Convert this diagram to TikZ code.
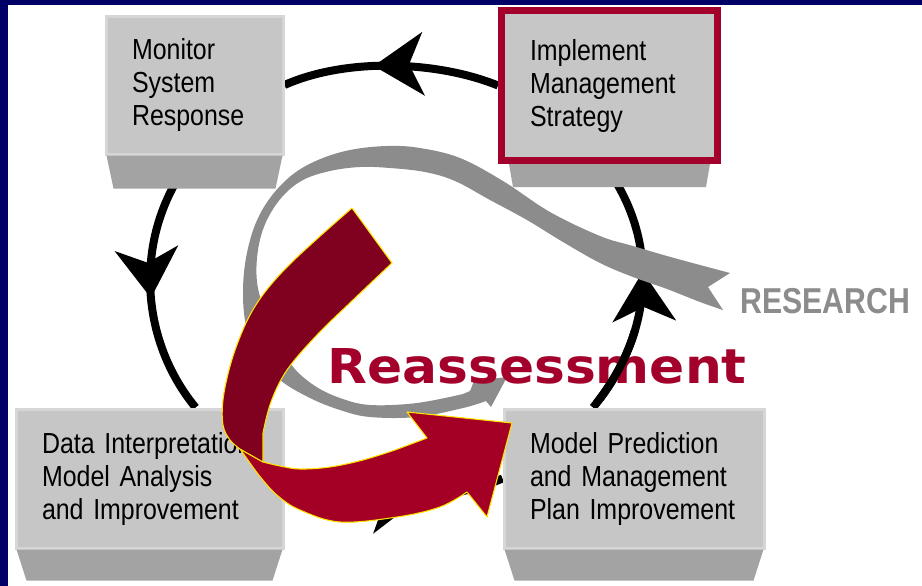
\documentclass[tikz,border=0pt]{standalone}
\usepackage{fontspec}
\newfontfamily\boxfont[FakeStretch=0.86]{Liberation Sans}
\newfontfamily\researchfont[FakeStretch=0.84]{Liberation Sans}
\newfontfamily\reassessfont[FakeStretch=1.08]{DejaVu Sans}
\usepackage{tikz}
\usetikzlibrary{arrows.meta, decorations.markings}

\definecolor{navy}{HTML}{000066}
\definecolor{facegrey}{HTML}{C6C6C6}
\definecolor{edgegrey}{HTML}{D6D6D6}
\definecolor{basegrey}{HTML}{A3A3A3}
\definecolor{bandgrey}{HTML}{8C8C8C}
\definecolor{wine}{HTML}{A3002B}
\definecolor{darkwine}{HTML}{800020}
\definecolor{brightwine}{HTML}{A40025}
\definecolor{rim}{HTML}{FFE400}

\pgfdeclarelayer{back}
\pgfsetlayers{back,main}

\tikzset{
	face/.style={draw=edgegrey, line width=2.25pt, fill=facegrey, inner xsep=19.5pt, inner ysep=0pt, align=left, font=\boxfont\fontsize{21.75pt}{24.75pt}\selectfont},
	base/.style={fill=basegrey},
	cyc/.style={line width=6pt, decoration={markings, mark=at position #1 with {\pgfsetlinewidth{0pt}\arrow{Stealth[length=37.5pt, width=48pt, inset=11pt]}}}, postaction={decorate}},
	ribbon/.style={draw=rim, line width=0.8pt, line join=round},
}

\begin{document}
\begin{tikzpicture}[x=0.75pt, y=0.75pt]
	\useasboundingbox (0,0) rectangle (922,-586);

	% the four stages
	\node[face, text width=93.75pt, minimum height=103.5pt] (monitor) at (194.5,-85) {Monitor\\System\\Response};
	\node[face, draw=wine, line width=5.25pt, inner xsep=21.375pt, text width=119.25pt, minimum height=112.5pt] (impl) at (609.5,-85.5) {Implement\\Management\\Strategy};
	\node[face, text width=161.25pt, minimum height=104.25pt] (data) at (149.5,-478.5) {Data Interpretation\\Model Analysis\\and Improvement};
	\node[face, text width=156pt, minimum height=104.25pt] (pred) at (634,-478.5) {Model Prediction\\and Management\\Plan Improvement};

	\foreach \n/\h/\t/\b in {monitor/33/2/9, impl/23/11/15, data/31/2/12, pred/31/2/12}
		\fill[base] ([shift={(\t,0)}]\n.south west) -- ([shift={(\b,-\h)}]\n.south west) -- ([shift={(-\b,-\h)}]\n.south east) -- ([shift={(-\t,0)}]\n.south east) -- cycle;

	\begin{pgfonlayer}{back}
		\fill[navy] (0,0) rectangle (922,-586);
		\fill[white] (8,-5) rectangle (922,-586);

		% management cycle
		\draw[cyc=0.58] (impl.west) to[out=158, in=24, looseness=0.8] (monitor.east);
		\draw[cyc=0.56] (monitor.south) to[out=230, in=129.5, looseness=0.95] (data.57);
		\draw[cyc=0.62] (data.east) to[out=336, in=203, looseness=0.8] (pred.west);
		\draw[cyc=0.56] (pred.120) to[out=50.5, in=306.6] (impl.266);

		% research loop
		\fill[bandgrey] plot[smooth, tension=0.6] coordinates {(730,-273) (700,-265) (667,-256) (633,-246) (600,-236) (550,-212) (503,-181) (460,-158) (420,-148) (387,-146) (350,-150) (318,-160) (292,-175) (270,-198) (255,-225) (246,-258) (243,-292) (246,-325) (258,-355) (280,-380) (310,-398) (340,-410) (370,-417) (417,-417) (463,-408) (486,-401)}
			-- (491,-407) -- (507,-377) -- (474,-381) -- (470,-391)
			-- plot[smooth, tension=0.6] coordinates {(463,-394) (417,-403) (370,-405) (340,-398) (315,-386) (294,-368) (278,-343) (265,-312) (257,-282) (258,-250) (266,-222) (282,-197) (303,-180) (330,-171) (360,-167) (390,-168) (425,-172) (455,-181) (490,-200) (527,-220) (563,-242) (600,-263) (633,-277) (667,-289) (700,-302) (723,-310)}
			-- (708,-287) -- cycle;

		\node[anchor=base west, inner sep=0pt, text=bandgrey, font=\researchfont\bfseries\fontsize{27pt}{27pt}\selectfont] (research) at (740,-313) {RESEARCH};
		\node[anchor=base west, inner sep=0pt, text=wine, font=\reassessfont\bfseries\fontsize{36pt}{36pt}\selectfont] (reassess) at (327,-383) {Reassessment};

		\begin{scope}
			\clip (560,-330) rectangle (660,-400);
			\draw[line width=6pt] (pred.120) to[out=50.5, in=306.6] (impl.266);
		\end{scope}
	\end{pgfonlayer}

	% reassessment arrow
	\filldraw[ribbon, fill=brightwine] (240,-449) -- plot[smooth, tension=0.6] coordinates {(250,-463) (262,-479) (278,-496) (300,-510) (340,-522) (397,-517) (440,-507) (467,-492)}
		-- (487,-517) -- (512,-423) -- (407,-412) -- (427,-438)
		-- plot[smooth, tension=0.6] coordinates {(395,-450) (363,-460) (330,-467) (300,-469) (280,-466) (263,-462)} -- cycle;
	\filldraw[ribbon, fill=darkwine] plot[smooth, tension=0.6] coordinates {(352,-208) (318,-238) (287,-267) (265,-292) (250,-315) (238,-342) (229,-370) (223,-400) (223,-425) (230,-440) (240,-449)}
		-- (263,-462) -- plot[smooth, tension=0.6] coordinates {(263,-433) (271,-402) (287,-370) (317,-335) (353,-300) (392,-263)} -- cycle;
\end{tikzpicture}
\end{document}
